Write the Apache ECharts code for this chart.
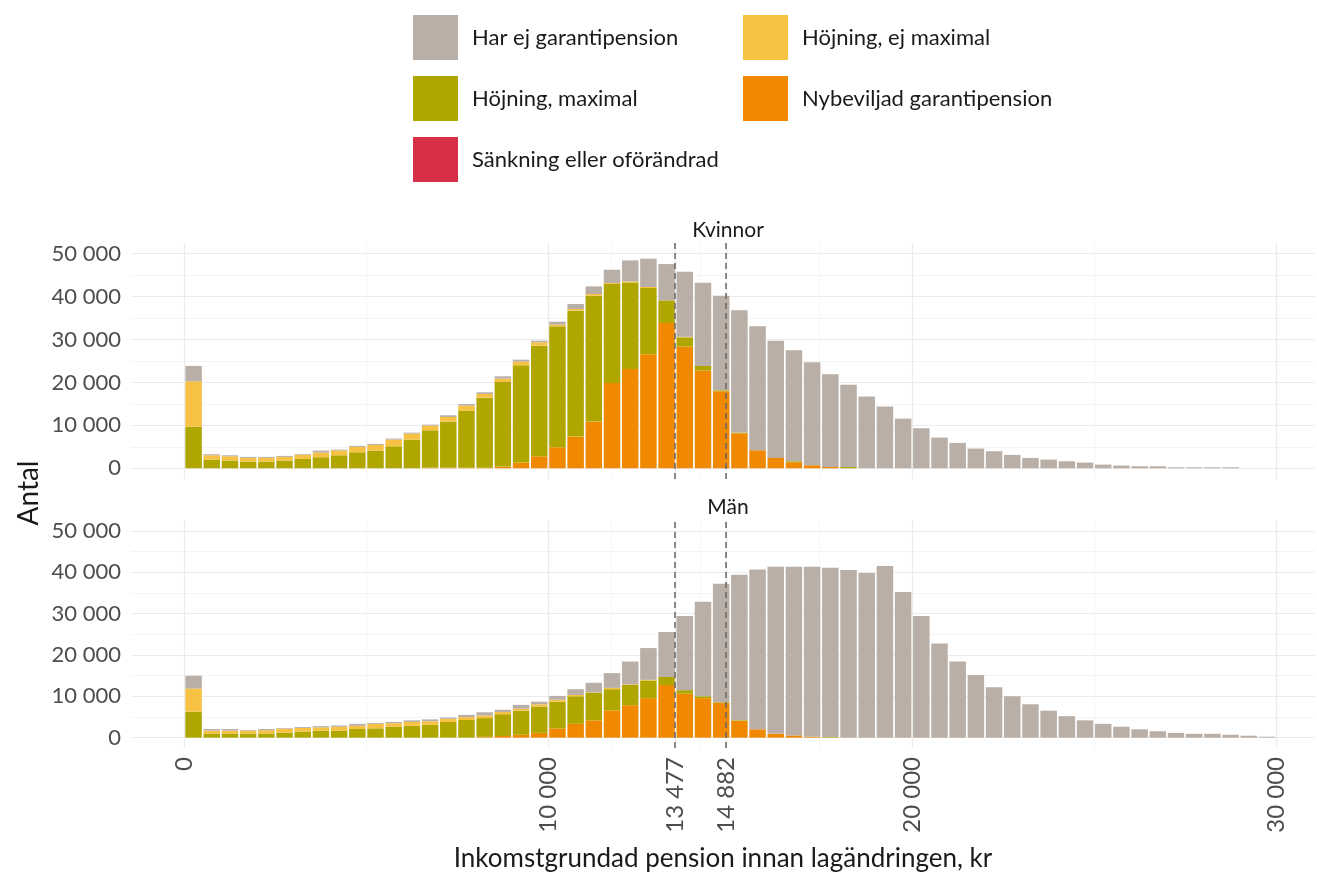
<!DOCTYPE html>
<html>
<head>
<meta charset="utf-8">
<script src="https://cdn.jsdelivr.net/npm/echarts@6/dist/echarts.min.js"></script>
<style>
  html, body { margin: 0; padding: 0; background: #fff; }
  #chart { width: 1317px; height: 873px; }
</style>
</head>
<body>
<div id="chart"></div>
<script>
  // bin mids, 500 kr per bin
  var binMid = [250, 750, 1250, 1750, 2250, 2750, 3250, 3750, 4250, 4750,
    5250, 5750, 6250, 6750, 7250, 7750, 8250, 8750, 9250, 9750,
    10250, 10750, 11250, 11750, 12250, 12750, 13250, 13750, 14250, 14750,
    15250, 15750, 16250, 16750, 17250, 17750, 18250, 18750, 19250, 19750,
    20250, 20750, 21250, 21750, 22250, 22750, 23250, 23750, 24250, 24750,
    25250, 25750, 26250, 26750, 27250, 27750, 28250, 28750, 29250, 29750]

  var xTicks = [0, 10000, 13477, 14882, 20000, 30000]
  var refLines = [13477, 14882]

  var names = ['Sänkning eller oförändrad', 'Nybeviljad garantipension', 'Höjning, maximal', 'Höjning, ej maximal', 'Har ej garantipension']
  var colors = ['#D72F45', '#F08800', '#AFA700', '#F7C143', '#B9AFA6']

  // Kvinnor
  var fSank = [0,0,0,0,0,0,0,0,0,0, 0,0,0,0,0,0,0,0,0,0, 0,0,0,0,0,0,0,0,0,0,
    0,0,0,0,0,0,0,0,0,0, 0,0,0,0,0,0,0,0,0,0, 0,0,0,0,0,0,0,0,0,0]
  var fNy = [0,0,0,0,0,0,0,0,0,0, 0,0,0,150,150,150,150,400,1330,2800,
    4900,7380,10880,19880,23140,26560,33850,28340,22750,17940,
    8160,4200,2410,1400,700,320,0,0,0,0, 0,0,0,0,0,0,0,0,0,0, 0,0,0,0,0,0,0,0,0,0]
  var fMax = [9710,2030,1790,1560,1560,1790,2180,2570,3030,3730,
    4120,5130,6680,8700,10725,13290,16310,19710,22660,25780,
    28180,29350,29340,23060,20180,15440,5280,2180,1090,230,
    150,0,0,240,0,0,300,0,0,0, 0,0,0,0,0,0,0,0,0,0, 0,0,0,0,0,0,0,0,0,0]
  var fEjMax = [10560,1000,1010,850,860,860,930,1090,1090,1240,
    1320,1550,1400,1090,1085,1160,860,780,860,770,
    380,380,390,230,240,240,0,150,0,0,
    0,0,0,0,0,0,0,0,0,0, 0,0,0,0,0,0,0,0,0,0, 0,0,0,0,0,0,0,0,0,0]
  var fHarEj = [3570,240,230,240,240,230,160,460,230,240,
    240,240,230,230,390,390,390,540,460,390,
    700,1170,1780,3100,4890,6600,8460,15140,19410,22050,
    28490,28880,27330,25850,23990,21580,19190,16700,14370,11570,
    9320,7150,5910,4590,3970,3110,2410,2030,1640,1330,
    860,630,470,470,230,230,230,230,0,0]

  // Män
  var mSank = [0,0,0,0,0,0,0,0,0,0, 0,0,0,0,0,0,0,0,0,0, 0,0,0,0,0,0,0,0,0,0,
    0,0,0,0,0,0,0,0,0,0, 0,0,0,0,0,0,0,0,0,0, 0,0,0,0,0,0,0,0,0,0]
  var mNy = [0,0,0,0,0,0,0,0,0,0, 0,0,0,0,0,0,200,400,700,1160,
    2250,3340,4190,6600,7840,9550,12730,10640,9550,8380,
    4040,2020,930,540,230,0,0,0,0,0, 0,0,0,0,0,0,0,0,0,0, 0,0,0,0,0,0,0,0,0,0]
  var mMax = [6290,1010,1010,1010,1010,1240,1470,1710,1710,2100,
    2250,2640,2870,3100,3800,4270,4530,5270,5820,6370,
    6440,6670,6680,5120,4890,4270,1940,850,460,160,
    150,0,0,0,0,150,0,0,0,0, 0,0,0,0,0,0,0,0,0,0, 0,0,0,0,0,0,0,0,0,0]
  var mEjMax = [5590,700,700,700,780,940,860,770,930,770,
    1090,850,930,860,780,700,630,540,470,540,
    470,310,80,310,160,150,0,0,0,0,
    0,0,0,0,0,0,0,0,0,0, 0,0,0,0,0,0,0,0,0,0, 0,0,0,0,0,0,0,0,0,0]
  var mHarEj = [3100,390,390,150,310,150,230,310,310,470,
    230,310,390,460,310,540,770,540,930,620,
    930,1400,2320,3570,5510,7690,10870,17930,22830,28640,
    35170,38660,40370,40760,41070,40920,40520,39820,41530,35240,
    29420,22750,18400,15140,12190,10010,8070,6520,5200,4190,
    3340,2640,2020,1550,1160,930,930,700,470,230]

  var fontFam = 'Lato, "Open Sans", sans-serif'
  var gridMajor = '#ebebeb'
  var gridMinor = '#f4f4f4'

  function fmt (v) {
    return String(Math.round(v)).replace(/\B(?=(\d{3})+(?!\d))/g, ' ')
  }

  // minor breaks halfway between the major ones, like ggplot
  var minorX = []
  for (var i = 0; i < xTicks.length - 1; i++) {
    minorX.push((xTicks[i] + xTicks[i + 1]) / 2)
  }

  // value first, bin second: echarts stacks the first numeric dimension
  function pairs (vals) {
    var res = []
    for (var i = 0; i < binMid.length; i++) {
      res.push([vals[i], binMid[i]])
    }
    return res
  }

  function vLines (vals, color, width, type) {
    var res = []
    for (var i = 0; i < vals.length; i++) {
      res.push({xAxis: vals[i], lineStyle: {color: color, width: width, type: type}})
    }
    return res
  }

  var series = []
  var panels = [[fSank, fNy, fMax, fEjMax, fHarEj], [mSank, mNy, mMax, mEjMax, mHarEj]]
  panels.forEach(function (sets, p) {
    // grid lines behind the bars
    series.push({
      type: 'line', data: [], xAxisIndex: p, yAxisIndex: p, silent: true,
      markLine: {
        silent: true, symbol: 'none', z: 1, label: {show: false},
        data: vLines(xTicks, gridMajor, 1.2, 'solid').concat(vLines(minorX, gridMinor, 1, 'solid'))
      }
    })
    sets.forEach(function (vals, s) {
      series.push({
        name: names[s],
        type: 'bar',
        stack: 'p' + p,
        xAxisIndex: p,
        yAxisIndex: p,
        barWidth: 16.5,
        encode: {x: 1, y: 0},
        itemStyle: {color: colors[s]},
        data: pairs(vals),
        z: 2
      })
    })
    // dashed reference lines over the bars
    series.push({
      type: 'line', data: [], xAxisIndex: p, yAxisIndex: p, silent: true,
      markLine: {
        silent: true, symbol: 'none', z: 6, label: {show: false},
        data: vLines(refLines, '#666666', 1.5, [6, 4])
      }
    })
  })

  function xAxisOpt (idx, showLabels) {
    return {
      type: 'value', gridIndex: idx, min: -1470, max: 31070,
      axisLine: {show: false}, axisTick: {show: false}, splitLine: {show: false},
      axisLabel: {
        show: showLabels, customValues: xTicks, rotate: 90, margin: 9,
        fontSize: 24, color: '#4d4d4d', fontFamily: fontFam,
        formatter: function (v) { return fmt(v) }
      },
      name: showLabels ? 'Inkomstgrundad pension innan lagändringen, kr' : '',
      nameLocation: 'middle', nameGap: 98,
      nameTextStyle: {fontSize: 26, color: '#1a1a1a', fontFamily: fontFam}
    }
  }

  function yAxisOpt (idx) {
    return {
      type: 'value', gridIndex: idx, min: -2500, max: 52500, interval: 2500,
      axisLine: {show: false}, axisTick: {show: false},
      splitLine: {show: true, lineStyle: {color: ['transparent', gridMajor, 'transparent', gridMinor], width: 1.2}},
      axisLabel: {
        margin: 10, fontSize: 22, color: '#4d4d4d', fontFamily: fontFam,
        formatter: function (v) { return (v >= 0 && v % 10000 === 0) ? fmt(v) : '' }
      }
    }
  }

  var chart = echarts.init(document.getElementById('chart'))
  chart.setOption({
    animation: false,
    backgroundColor: '#ffffff',
    textStyle: {fontFamily: fontFam},
    title: [
      {text: 'Kvinnor', left: 723, top: 215, textAlign: 'center',
        textStyle: {fontSize: 21, fontWeight: 'normal', color: '#1a1a1a', fontFamily: fontFam}},
      {text: 'Män', left: 723, top: 492, textAlign: 'center',
        textStyle: {fontSize: 21, fontWeight: 'normal', color: '#1a1a1a', fontFamily: fontFam}}
    ],
    legend: [
      {
        data: ['Har ej garantipension', 'Höjning, maximal', 'Sänkning eller oförändrad'],
        orient: 'vertical', left: 413, top: 15, padding: 0,
        itemWidth: 45, itemHeight: 45, itemGap: 16, icon: 'rect',
        selectedMode: false,
        textStyle: {fontSize: 22, color: '#1a1a1a', fontFamily: fontFam, padding: [0, 0, 0, 9]}
      },
      {
        data: ['Höjning, ej maximal', 'Nybeviljad garantipension'],
        orient: 'vertical', left: 743, top: 15, padding: 0,
        itemWidth: 45, itemHeight: 45, itemGap: 16, icon: 'rect',
        selectedMode: false,
        textStyle: {fontSize: 22, color: '#1a1a1a', fontFamily: fontFam, padding: [0, 0, 0, 9]}
      }
    ],
    grid: [
      {left: 131, right: 2, top: 243, height: 236},
      {left: 131, right: 2, top: 520.5, height: 236}
    ],
    xAxis: [xAxisOpt(0, false), xAxisOpt(1, true)],
    yAxis: [yAxisOpt(0), yAxisOpt(1)],
    graphic: [
      {type: 'text', x: 29, y: 493, rotation: Math.PI / 2,
        style: {text: 'Antal', fontSize: 28, fontFamily: fontFam, fill: '#1a1a1a',
          textAlign: 'center', textVerticalAlign: 'middle'}}
    ],
    series: series
  })
</script>
</body>
</html>
